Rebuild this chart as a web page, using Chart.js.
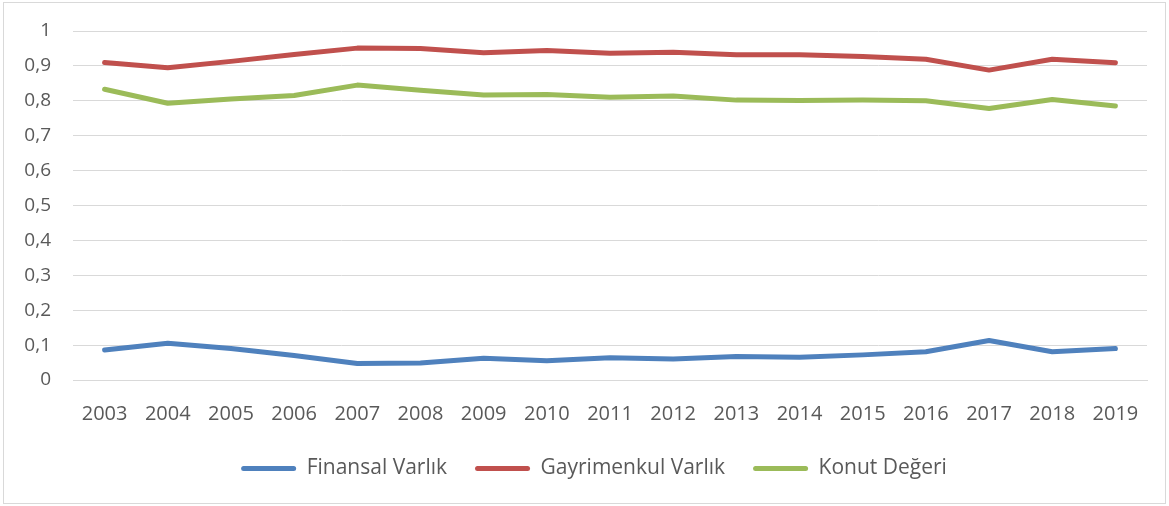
<!DOCTYPE html>
<html>
<head>
<meta charset="utf-8">
<script src="https://cdn.jsdelivr.net/npm/chart.js@4/dist/chart.umd.min.js"></script>
<style>
  html, body { margin: 0; padding: 0; background: #fff; }
  #wrap { width: 1169px; height: 506px; position: relative; }
</style>
</head>
<body>
<div id="wrap"><canvas id="c" width="1169" height="506"></canvas></div>
<script>
const years = ["2003","2004","2005","2006","2007","2008","2009","2010","2011","2012","2013","2014","2015","2016","2017","2018","2019"];
const finansal = [0.086,0.105,0.090,0.070,0.047,0.049,0.062,0.055,0.064,0.060,0.067,0.065,0.072,0.081,0.113,0.081,0.090];
const gayrimenkul = [0.910,0.895,0.913,0.933,0.951,0.950,0.938,0.944,0.936,0.939,0.932,0.932,0.927,0.919,0.888,0.919,0.909];
const konut = [0.833,0.793,0.805,0.815,0.845,0.830,0.817,0.818,0.810,0.814,0.802,0.801,0.802,0.800,0.778,0.804,0.785];
const seriesNames = ["Finansal Varlık","Gayrimenkul Varlık","Konut Değeri"];
const seriesColors = ["#4F81BD","#C0504D","#9BBB59"];

const FONT = "'Open Sans', sans-serif";
const TXT = "#595959";
const LEGEND_CENTER = 594;

const frame = {
  id: 'frame',
  afterLayout(chart) {
    const L = chart.legend;
    const shift = LEGEND_CENTER - (L.left + L.right) / 2;
    L.left += shift;
    L.right += shift;
  },
  beforeDraw(chart) {
    const ctx = chart.ctx;
    ctx.save();
    ctx.fillStyle = '#fff';
    ctx.fillRect(0, 0, chart.width, chart.height);
    ctx.strokeStyle = '#d9d9d9';
    ctx.lineWidth = 1;
    ctx.strokeRect(3.5, 2.5, 1162, 501);
    ctx.restore();
  }
};

function ds(i, data) {
  return {
    label: seriesNames[i],
    data: data,
    borderColor: seriesColors[i],
    backgroundColor: seriesColors[i],
    borderWidth: 5,
    pointRadius: 0,
    tension: 0,
    borderCapStyle: 'round',
    borderJoinStyle: 'round',
    fill: false
  };
}

new Chart(document.getElementById('c'), {
  type: 'line',
  data: {
    labels: years,
    datasets: [ds(0, finansal), ds(1, gayrimenkul), ds(2, konut)]
  },
  plugins: [frame],
  options: {
    responsive: false,
    animation: false,
    devicePixelRatio: 1,
    layout: { padding: { left: 3, right: 22, top: 16, bottom: 17 } },
    plugins: {
      tooltip: { enabled: false },
      legend: {
        position: 'bottom',
        labels: {
          color: TXT,
          font: { family: FONT, size: 21 },
          boxWidth: 55,
          boxHeight: 5,
          padding: 28,
          useBorderRadius: true,
          borderRadius: 2.5,
          generateLabels(chart) {
            return chart.data.datasets.map((d, i) => ({
              text: d.label,
              fillStyle: d.borderColor,
              strokeStyle: d.borderColor,
              lineWidth: 0,
              borderRadius: 2.5,
              fontColor: TXT,
              datasetIndex: i,
              hidden: false
            }));
          }
        }
      }
    },
    scales: {
      x: {
        offset: true,
        afterFit(scale) { scale.height = 50; },
        grid: { display: false, drawTicks: false },
        border: { display: true, color: '#d9d9d9', width: 1 },
        ticks: { color: TXT, font: { family: FONT, size: 20 }, padding: 22, maxRotation: 0, autoSkip: false }
      },
      y: {
        min: 0,
        max: 1,
        afterFit(scale) { scale.width = 70; },
        grid: { color: '#d9d9d9', lineWidth: 1, drawTicks: false },
        border: { display: false },
        ticks: {
          stepSize: 0.1,
          color: TXT,
          font: { family: FONT, size: 19, lineHeight: 0.95 },
          padding: 22,
          callback: (v) => {
            const r = Math.round(v * 10) / 10;
            return r === 0 ? '0' : (r === 1 ? '1' : r.toFixed(1).replace('.', ','));
          }
        }
      }
    }
  }
});
</script>
</body>
</html>
